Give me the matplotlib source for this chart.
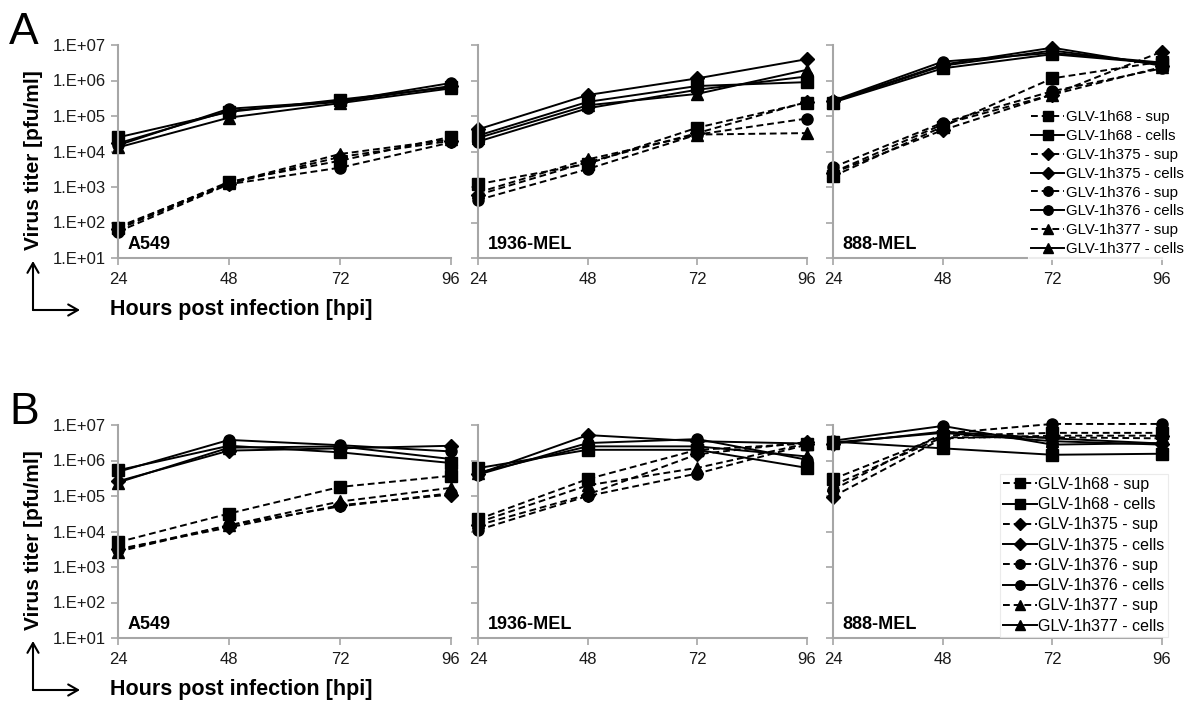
import numpy as np
import matplotlib.pyplot as plt
from matplotlib.ticker import FixedLocator, FuncFormatter, NullLocator
from matplotlib.patches import FancyArrowPatch

plt.rcParams['font.family'] = ['Liberation Sans', 'DejaVu Sans']

hours = [24, 48, 72, 96]
viruses = ['GLV-1h68', 'GLV-1h375', 'GLV-1h376', 'GLV-1h377']
markers = ['s', 'D', 'o', '^']
cell_lines = ['A549', '1936-MEL', '888-MEL']

# rows follow `viruses`, columns follow `hours` (pfu/ml)
# panel A
a_a549_sup = [[70, 1400, 5500, 26000], [65, 1250, 7000, 20000],
              [55, 1200, 3500, 18000], [75, 1300, 8500, 22000]]
a_a549_cells = [[25000, 130000, 290000, 650000], [17000, 140000, 250000, 700000],
                [15000, 160000, 260000, 850000], [13000, 90000, 230000, 600000]]
a_1936_sup = [[1200, 4500, 47000, 240000], [600, 5000, 33000, 250000],
              [430, 3200, 30000, 85000], [700, 6000, 30000, 33000]]
a_1936_cells = [[28000, 250000, 700000, 900000], [42000, 390000, 1150000, 4000000],
                [19000, 165000, 550000, 1300000], [24000, 200000, 420000, 2000000]]
a_888_sup = [[2000, 50000, 1150000, 3400000], [2500, 40000, 400000, 6500000],
             [3600, 65000, 500000, 2200000], [2600, 58000, 400000, 2400000]]
a_888_cells = [[240000, 2200000, 5500000, 3000000], [260000, 2800000, 8400000, 2600000],
               [270000, 3400000, 6000000, 3200000], [250000, 2600000, 7000000, 2800000]]

# panel B
b_a549_sup = [[5000, 32000, 180000, 370000], [3200, 13000, 55000, 110000],
              [3000, 15000, 51000, 120000], [2700, 15000, 70000, 170000]]
b_a549_cells = [[530000, 2600000, 1700000, 850000], [260000, 1900000, 2200000, 2600000],
                [480000, 3800000, 2700000, 1800000], [240000, 2300000, 2500000, 1100000]]
b_1936_sup = [[22000, 300000, 2000000, 3000000], [15000, 110000, 1500000, 3300000],
              [11000, 100000, 430000, 2800000], [18000, 200000, 620000, 3000000]]
b_1936_cells = [[610000, 2000000, 2000000, 620000], [420000, 5200000, 3500000, 3000000],
                [400000, 3100000, 4000000, 1050000], [450000, 2500000, 2500000, 1300000]]
b_888_sup = [[300000, 5000000, 6000000, 6000000], [96000, 4200000, 5000000, 5000000],
             [150000, 5800000, 10700000, 10700000], [200000, 4500000, 4500000, 4200000]]
b_888_cells = [[3400000, 2200000, 1450000, 1550000], [3000000, 6500000, 4200000, 3000000],
               [3600000, 9400000, 2800000, 3100000], [3200000, 6000000, 3500000, 2800000]]

panels = {
    'A': [(a_a549_sup, a_a549_cells), (a_1936_sup, a_1936_cells), (a_888_sup, a_888_cells)],
    'B': [(b_a549_sup, b_a549_cells), (b_1936_sup, b_1936_cells), (b_888_sup, b_888_cells)],
}

W, H = 1188, 703
fig = plt.figure(figsize=(W / 100, H / 100), dpi=100)

ax_left = [118, 478, 833]
ax_width = [333, 329, 329]
panel_top = {'A': 45, 'B': 425}
ax_height = 213
spine_grey = '#a6a6a6'

# legend placement (lower-right corner in axes fraction, font size, row spacing)
legend_opts = {
    'A': dict(anchor=(1.075, -0.005), fontsize=10.8, labelspacing=0.32,
              handlelength=2.2, edge='white'),
    'B': dict(anchor=(1.018, 0.005), fontsize=11.5, labelspacing=0.33,
              handlelength=2.1, edge='#e6e6e6'),
}


def px(x0, y0, w, h):
    return [x0 / W, 1 - (y0 + h) / H, w / W, h / H]


def yfmt(v, pos):
    return '1.E+%02d' % int(round(np.log10(v)))


for pname, data in panels.items():
    top = panel_top[pname]
    for i, (sup, cells) in enumerate(data):
        ax = fig.add_axes(px(ax_left[i], top, ax_width[i], ax_height))
        for j, name in enumerate(viruses):
            ms = 7 if markers[j] == 'D' else 8
            ax.plot(hours, sup[j], color='black', linestyle=(0, (3.5, 2)), lw=1.4,
                    marker=markers[j], ms=ms, clip_on=False, label=name + ' - sup')
            ax.plot(hours, cells[j], color='black', linestyle='-', lw=1.4,
                    marker=markers[j], ms=ms, clip_on=False, label=name + ' - cells')
        ax.set_yscale('log')
        ax.set_ylim(10, 1e7)
        ax.set_xlim(24, 96)
        ax.xaxis.set_major_locator(FixedLocator(hours))
        ax.yaxis.set_major_locator(FixedLocator([10.0 ** k for k in range(1, 8)]))
        ax.yaxis.set_minor_locator(NullLocator())
        ax.yaxis.set_major_formatter(FuncFormatter(yfmt))
        for side in ('top', 'right'):
            ax.spines[side].set_visible(False)
        for side in ('left', 'bottom'):
            ax.spines[side].set_color(spine_grey)
            ax.spines[side].set_linewidth(1.5)
        ax.tick_params(axis='both', color=spine_grey, width=1.2, length=5,
                       labelsize=12, labelcolor='#1a1a1a')
        ax.tick_params(axis='x', pad=5)
        if i > 0:
            ax.tick_params(axis='y', labelleft=False)
        ax.text(0.03, 0.025, cell_lines[i], transform=ax.transAxes,
                fontsize=13, fontweight='bold', ha='left', va='bottom')
        if i == 2:
            opts = legend_opts[pname]
            leg = ax.legend(loc='lower right', bbox_to_anchor=opts['anchor'],
                            borderaxespad=0, fontsize=opts['fontsize'],
                            handlelength=opts['handlelength'], markerscale=0.85,
                            labelspacing=opts['labelspacing'], handletextpad=0.12,
                            borderpad=0.2, frameon=True, fancybox=False)
            leg.get_frame().set_edgecolor(opts['edge'])
            leg.get_frame().set_linewidth(0.8)

    # panel letter, axis titles and corner arrows
    fig.text(9 / W, 1 - (top - 1) / H, pname, fontsize=32, ha='left', va='baseline')
    fig.text(110 / W, 1 - (top + 265) / H, 'Hours post infection [hpi]',
             fontsize=15.5, fontweight='bold', ha='left', va='center')
    fig.text(34 / W, 1 - (top + 115) / H, 'Virus titer [pfu/ml]',
             fontsize=15, fontweight='bold', ha='center', va='center', rotation=90)
    corner = (33 / W, 1 - (top + 265) / H)
    for tip in [(33 / W, 1 - (top + 216) / H), (80 / W, 1 - (top + 265) / H)]:
        fig.add_artist(FancyArrowPatch(corner, tip, transform=fig.transFigure,
                                       arrowstyle='->,head_length=7,head_width=4',
                                       color='black', lw=1.5, shrinkA=0, shrinkB=0))

fig.savefig('out.png', dpi=100)
